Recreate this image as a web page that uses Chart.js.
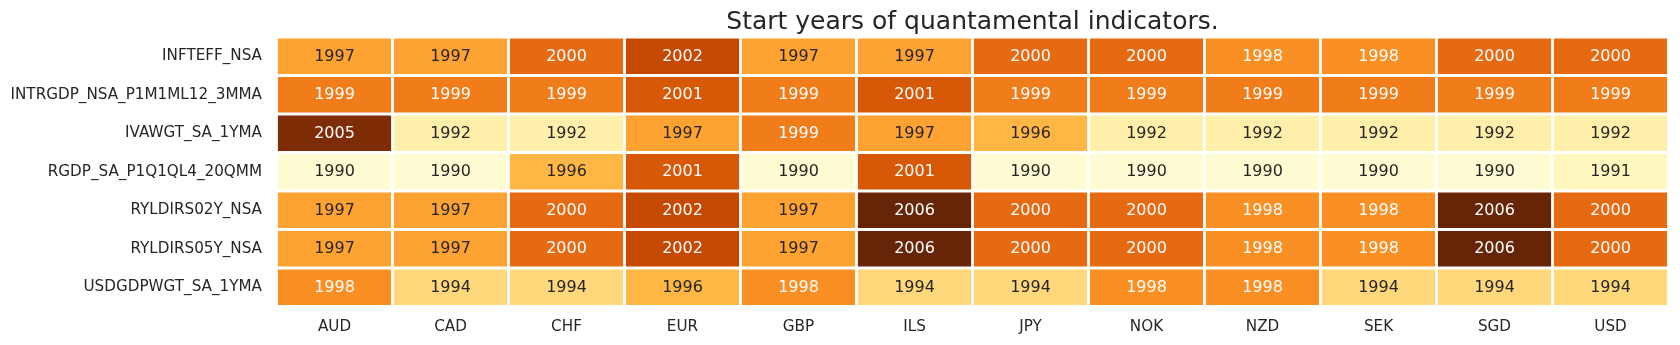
<!DOCTYPE html>
<html>
<head>
<meta charset="utf-8">
<script src="https://cdn.jsdelivr.net/npm/chart.js@4/dist/chart.umd.min.js"></script>
<style>
  html, body { margin: 0; padding: 0; background: #ffffff; }
  #wrap { width: 1680px; height: 345px; }
</style>
</head>
<body>
<div id="wrap"><canvas id="heat" width="1680" height="345"></canvas></div>
<script>
// Heatmap of the first year available for each indicator / currency pair.
const TITLE = 'Start years of quantamental indicators.';

const currencies = ['AUD', 'CAD', 'CHF', 'EUR', 'GBP', 'ILS', 'JPY', 'NOK', 'NZD', 'SEK', 'SGD', 'USD'];

const indicators = [
  'INFTEFF_NSA',
  'INTRGDP_NSA_P1M1ML12_3MMA',
  'IVAWGT_SA_1YMA',
  'RGDP_SA_P1Q1QL4_20QMM',
  'RYLDIRS02Y_NSA',
  'RYLDIRS05Y_NSA',
  'USDGDPWGT_SA_1YMA'
];

// Start years, one array per indicator, in currency order
const inftEff     = [1997, 1997, 2000, 2002, 1997, 1997, 2000, 2000, 1998, 1998, 2000, 2000];
const intrGdp     = [1999, 1999, 1999, 2001, 1999, 2001, 1999, 1999, 1999, 1999, 1999, 1999];
const ivaWgt      = [2005, 1992, 1992, 1997, 1999, 1997, 1996, 1992, 1992, 1992, 1992, 1992];
const rgdp        = [1990, 1990, 1996, 2001, 1990, 2001, 1990, 1990, 1990, 1990, 1990, 1991];
const ryldIrs02y  = [1997, 1997, 2000, 2002, 1997, 2006, 2000, 2000, 1998, 1998, 2006, 2000];
const ryldIrs05y  = [1997, 1997, 2000, 2002, 1997, 2006, 2000, 2000, 1998, 1998, 2006, 2000];
const usdGdpWgt   = [1998, 1994, 1994, 1996, 1998, 1994, 1994, 1998, 1998, 1994, 1994, 1994];

const startYears = [inftEff, intrGdp, ivaWgt, rgdp, ryldIrs02y, ryldIrs05y, usdGdpWgt];

// Colour scale limits
const V_MIN = 1989;
const V_MAX = 2006;

// YlOrBr colour ramp
const RAMP = [
  [255, 255, 229], [255, 247, 188], [254, 227, 145], [254, 196, 79],
  [254, 153, 41],  [236, 112, 20],  [204, 76, 2],    [153, 52, 4],
  [102, 37, 6]
];

function rampColor(v) {
  let t = (v - V_MIN) / (V_MAX - V_MIN);
  t = Math.max(0, Math.min(1, t));
  const pos = t * (RAMP.length - 1);
  const i = Math.min(Math.floor(pos), RAMP.length - 2);
  const f = pos - i;
  const a = RAMP[i], b = RAMP[i + 1];
  return a.map((c, k) => Math.round(c + (b[k] - c) * f));
}

function rgbStr(c) { return 'rgb(' + c[0] + ',' + c[1] + ',' + c[2] + ')'; }

function luminance(c) {
  const lin = c.map(x => {
    x /= 255;
    return x <= 0.03928 ? x / 12.92 : Math.pow((x + 0.055) / 1.055, 2.4);
  });
  return 0.2126 * lin[0] + 0.7152 * lin[1] + 0.0722 * lin[2];
}

const FONT = 'DejaVu Sans';
const INK = '#262626';

// One floating-bar dataset per indicator row; each bar spans its row band.
const datasets = startYears.map((years, r) => ({
  label: indicators[r],
  data: years.map(() => [r - 0.5, r + 0.5]),
  years: years,
  backgroundColor: ctx => rgbStr(rampColor(years[ctx.dataIndex])),
  borderColor: '#ffffff',
  borderWidth: 1.4,
  borderSkipped: false,
  inflateAmount: 0,
  grouped: false,
  categoryPercentage: 1.0,
  barPercentage: 1.0
}));

const cellLabels = {
  id: 'cellLabels',
  afterDatasetsDraw(chart) {
    const ctx = chart.ctx;
    ctx.save();
    ctx.font = '16px "' + FONT + '"';
    ctx.textAlign = 'center';
    ctx.textBaseline = 'middle';
    chart.data.datasets.forEach((ds, r) => {
      const meta = chart.getDatasetMeta(r);
      meta.data.forEach((bar, i) => {
        const v = ds.years[i];
        const c = rampColor(v);
        ctx.fillStyle = luminance(c) < 0.408 ? '#ffffff' : INK;
        const p = bar.getProps(['x', 'y', 'base'], true);
        ctx.fillText(String(v), p.x, (p.y + p.base) / 2 + 0.5);
      });
    });
    ctx.restore();
  }
};

const centredTitle = {
  id: 'centredTitle',
  afterDraw(chart) {
    const a = chart.chartArea;
    const ctx = chart.ctx;
    ctx.save();
    ctx.font = '25px "' + FONT + '"';
    ctx.fillStyle = INK;
    ctx.textAlign = 'center';
    ctx.textBaseline = 'middle';
    ctx.fillText(TITLE, (a.left + a.right) / 2, 22);
    ctx.restore();
  }
};

new Chart(document.getElementById('heat'), {
  type: 'bar',
  data: { labels: currencies, datasets: datasets },
  options: {
    responsive: false,
    devicePixelRatio: 1,
    animation: false,
    layout: { padding: { top: 37, right: 11.5, bottom: 0, left: 0 } },
    plugins: {
      legend: { display: false },
      title: { display: false },
      tooltip: { enabled: false }
    },
    scales: {
      x: {
        type: 'category',
        offset: true,
        grid: { display: false, drawTicks: false },
        border: { display: false },
        ticks: { color: INK, font: { family: FONT, size: 15.2 }, padding: 11, maxRotation: 0 },
        afterFit(scale) { scale.height = 38.5; }
      },
      y: {
        type: 'linear',
        min: -0.5,
        max: 6.5,
        reverse: true,
        grid: { display: false, drawTicks: false },
        border: { display: false },
        afterBuildTicks(scale) {
          scale.ticks = indicators.map((_, i) => ({ value: i }));
        },
        ticks: {
          color: INK,
          font: { family: FONT, size: 15.2 },
          padding: 14.5,
          autoSkip: false,
          callback: v => indicators[v]
        },
        afterFit(scale) { scale.width = 276.5; }
      }
    }
  },
  plugins: [cellLabels, centredTitle]
});
</script>
</body>
</html>
